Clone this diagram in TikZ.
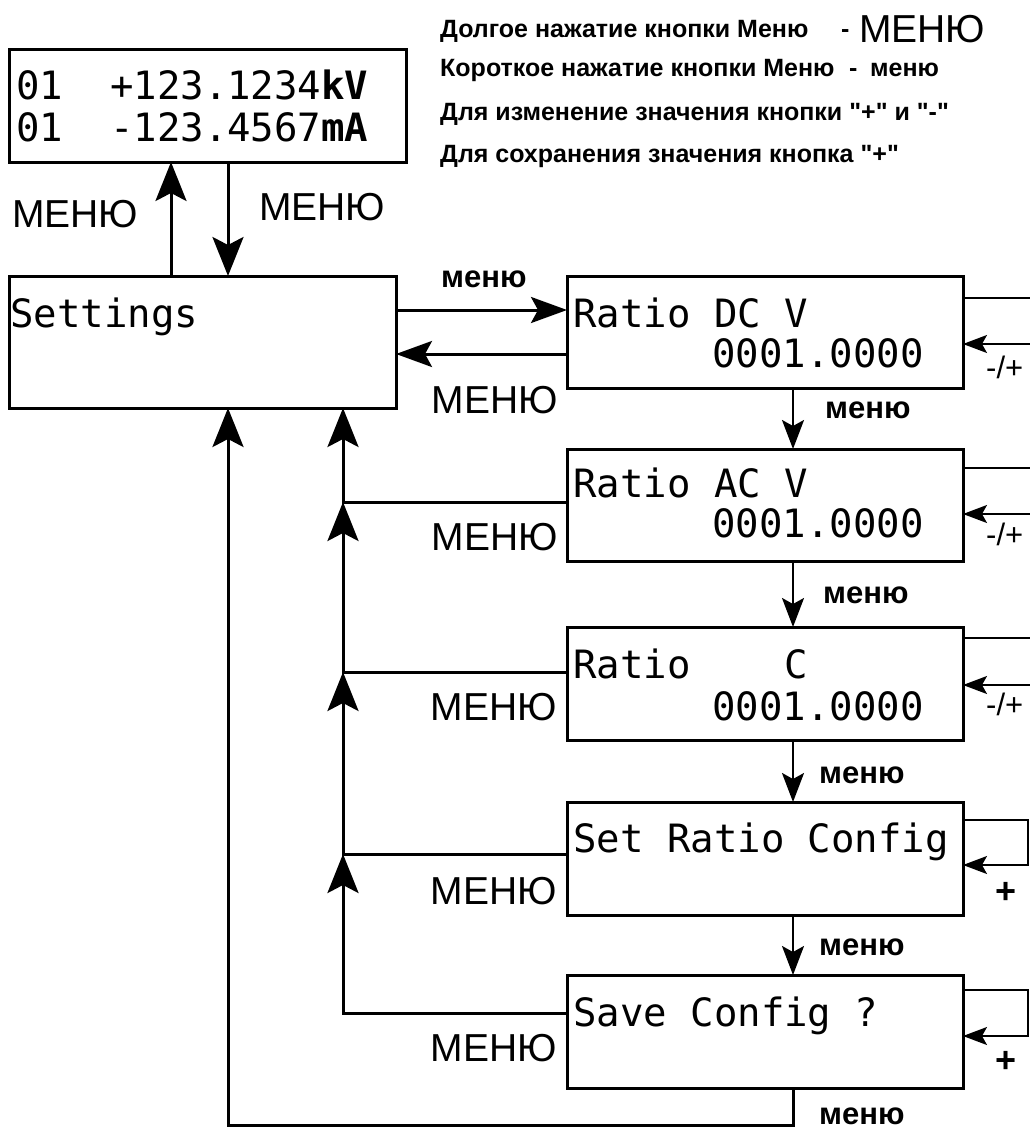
\documentclass[tikz,border=0pt]{standalone}
\usepackage{fontspec}
\setmainfont{Liberation Sans}
\newfontfamily\legf{Liberation Sans}[Ligatures=TeXOff]
\newfontfamily\monof{DejaVu Sans Mono}
\usetikzlibrary{arrows.meta,calc}
\tikzset{
 box/.style={draw, line width=3pt, rectangle, inner sep=0pt, outer sep=0pt, anchor=north west},
 lcd/.style={font=\monof\fontsize{39}{40}\selectfont, inner sep=0pt, anchor=base west},
 lcdr/.style={lcd, anchor=base east},
 big/.style={font=\fontsize{39}{40}\selectfont, inner sep=0pt, anchor=base west},
 bigr/.style={big, anchor=base east},
 sm/.style={font=\bfseries\fontsize{31}{32}\selectfont, inner sep=0pt, anchor=base west},
 pm/.style={font=\fontsize{31}{32}\selectfont, inner sep=0pt, anchor=base west},
 plus/.style={font=\bfseries\fontsize{36}{38}\selectfont, inner sep=0pt, anchor=base west},
 leg/.style={font=\legf\bfseries\fontsize{25}{26}\selectfont, inner sep=0pt, anchor=base west},
 bigarr/.style={line width=3pt, -{Stealth[length=39pt,width=31pt,inset=8pt]}},
 midarr/.style={line width=3pt, -{Stealth[length=36pt,width=26pt,inset=7pt]}},
 smarr/.style={line width=2pt, -{Stealth[length=29pt,width=22pt,inset=6pt]}},
 tinyarr/.style={line width=1.6pt, -{Stealth[length=24pt,width=18pt,inset=5pt]}},
 loopline/.style={line width=1.6pt},
}
\begin{document}
\begin{tikzpicture}[x=1pt,y=-1pt]
\fill[white] (0,0) rectangle (1030,1129);
\useasboundingbox (0,0) rectangle (1030,1129);

% legend
\node[leg] (lg1) at (440,38) {Долгое нажатие кнопки Меню};
\node[leg] (lg1d) at (841,38) {-};
\node[big] (lg1m) at (859,43) {МЕНЮ};
\node[leg] (lg2) at (440,77) {Короткое нажатие кнопки Меню};
\node[leg] (lg2d) at (849,77) {-};
\node[leg] (lg2m) at (870,77) {меню};
\node[leg] (lg3) at (440,121) {Для изменение значения кнопки "+" и "-"};
\node[leg] (lg4) at (440,162) {Для сохранения значения кнопка "+"};

% boxes
\node[box, minimum width=397pt, minimum height=112pt] (disp) at (9,50) {};
\node[box, minimum width=387pt, minimum height=132pt] (set) at (9,276) {};
\node[box, minimum width=396pt, minimum height=112pt] (dc) at (567,276) {};
\node[box, minimum width=396pt, minimum height=112pt] (ac) at (567,449) {};
\node[box, minimum width=396pt, minimum height=113pt] (cc) at (567,627) {};
\node[box, minimum width=396pt, minimum height=113pt] (src) at (567,802) {};
\node[box, minimum width=396pt, minimum height=113pt] (sc) at (567,975) {};

% box texts
\node[lcd] (disp1) at (16,100) {01~~+123.1234{\bfseries kV}};
\node[lcd] (disp2) at (16,142) {01~~-123.4567{\bfseries mA}};
\node[lcd] (sett) at (10,327) {Settings};
\node[lcd] (dc1) at (573,327) {Ratio~DC~V};
\node[lcdr] (dc2) at (924,367) {0001.0000};
\node[lcd] (ac1) at (573,497) {Ratio~AC~V};
\node[lcdr] (ac2) at (924,537) {0001.0000};
\node[lcd] (cc1) at (573,678) {Ratio~~~~C};
\node[lcdr] (cc2) at (924,720) {0001.0000};
\node[lcd] (src1) at (573,852) {Set~Ratio~Config};
\node[lcd] (sc1) at (573,1026) {Save~Config~?};

% helper coordinates
\coordinate (xa) at (171,0);
\coordinate (xb) at (228,0);
\coordinate (xc) at (343,0);
\coordinate (xd) at (793,0);
\coordinate (xr) at (1028,0);
\coordinate (xe) at (1040,0);
\coordinate (y1) at (0,310);
\coordinate (y2) at (0,354);
\coordinate (yac) at (0,502);
\coordinate (ycc) at (0,672);
\coordinate (ysrc) at (0,854);
\coordinate (ysc) at (0,1013);
\coordinate (ybot) at (0,1125);
\coordinate (r1) at (0,298); \coordinate (r2) at (0,344);
\coordinate (r3) at (0,468); \coordinate (r4) at (0,514);
\coordinate (r5) at (0,638); \coordinate (r6) at (0,685);
\coordinate (r7) at (0,820); \coordinate (r8) at (0,865);
\coordinate (r9) at (0,990); \coordinate (r10) at (0,1036);

% display <-> settings
\draw[bigarr] (set.north -| xa) -- (disp.south -| xa);
\draw[bigarr] (disp.south -| xb) -- (set.north -| xb);
\node[big] (m1) at (12,227) {МЕНЮ};
\node[big] (m2) at (259,220) {МЕНЮ};

% settings <-> DC
\draw[midarr] (set.east |- y1) -- (dc.west |- y1);
\draw[midarr] (dc.west |- y2) -- (set.east |- y2);
\node[sm] (s0) at (441,287) {меню};
\node[bigr] (m3) at (558,413) {МЕНЮ};

% chain down
\draw[smarr] (dc.south -| xd) -- (ac.north -| xd);
\draw[smarr] (ac.south -| xd) -- (cc.north -| xd);
\draw[smarr] (cc.south -| xd) -- (src.north -| xd);
\draw[smarr] (src.south -| xd) -- (sc.north -| xd);
\node[sm] (s1) at (825,418) {меню};
\node[sm] (s2) at (823,603) {меню};
\node[sm] (s3) at (819,783) {меню};
\node[sm] (s4) at (819,955) {меню};
\node[sm] (s5) at (819,1124) {меню};

% returns to settings
\draw[bigarr] (ac.west |- yac) -| (set.south -| xc);
\draw[bigarr] (cc.west |- ycc) -| (xc |- yac);
\draw[bigarr] (src.west |- ysrc) -| (xc |- ycc);
\draw[bigarr] (sc.west |- ysc) -| (xc |- ysrc);
\draw[bigarr] (sc.south -| xd) |- (xb |- ybot) -- (set.south -| xb);
\node[bigr] (m4) at (558,550) {МЕНЮ};
\node[bigr] (m5) at (557,720) {МЕНЮ};
\node[bigr] (m6) at (557,904) {МЕНЮ};
\node[bigr] (m7) at (557,1061) {МЕНЮ};

% right loops
\draw[loopline] (dc.east |- r1) -- (xe |- r1);
\draw[tinyarr] (xe |- r2) -- (dc.east |- r2);
\draw[loopline] (ac.east |- r3) -- (xe |- r3);
\draw[tinyarr] (xe |- r4) -- (ac.east |- r4);
\draw[loopline] (cc.east |- r5) -- (xe |- r5);
\draw[tinyarr] (xe |- r6) -- (cc.east |- r6);
\draw[tinyarr] (src.east |- r7) -| (xr |- r8) -- (src.east |- r8);
\draw[tinyarr] (sc.east |- r9) -| (xr |- r10) -- (sc.east |- r10);
\node[pm] (p1) at (986,378) {-/+};
\node[pm] (p2) at (986,545) {-/+};
\node[pm] (p3) at (986,715) {-/+};
\node[plus] (p4) at (995,903) {+};
\node[plus] (p5) at (995,1072) {+};
\end{tikzpicture}
\end{document}
